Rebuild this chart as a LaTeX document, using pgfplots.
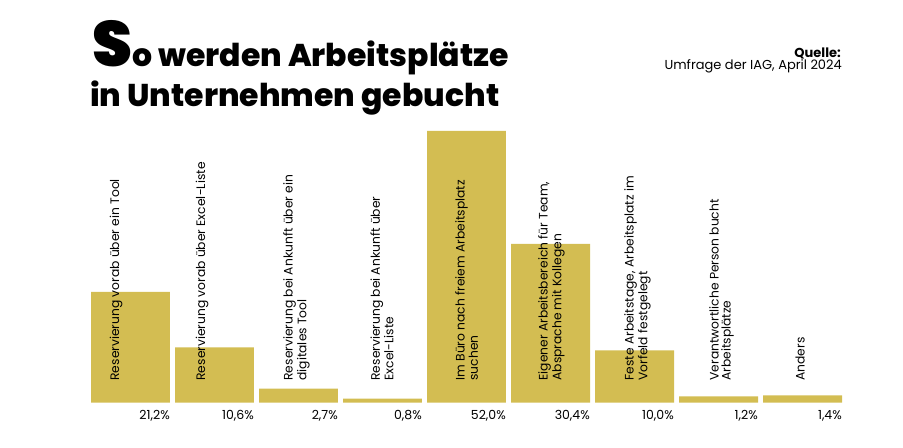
\documentclass[border=0pt]{standalone}
\usepackage{pgfplots}
\pgfplotsset{compat=1.18}
\usepackage{fontspec}
\setmainfont{Poppins}
\newfontfamily\pblack{Poppins Black}
\newfontfamily\pxb{Poppins ExtraBold}
\definecolor{barc}{HTML}{D3BD52}
\tikzset{vl/.style={anchor=base east, inner sep=0, font=\fontsize{12.5bp}{14bp}\selectfont},
  cl/.style={rotate=90, anchor=west, align=left, inner sep=0, font=\fontsize{12.3bp}{12bp}\selectfont}}
\begin{document}
\begin{tikzpicture}[x=1bp,y=1bp]
\useasboundingbox (0,0) rectangle (903,448);
\node[anchor=base west, inner sep=0] at (92,381) {{\pblack\fontsize{64bp}{64bp}\selectfont S}{\pxb\fontsize{31.5bp}{40bp}\selectfont o werden Arbeitsplätze}};
\node[anchor=base west, inner sep=0] at (90,341) {\pxb\fontsize{31.5bp}{40bp}\selectfont in Unternehmen gebucht};
\node[anchor=base east, inner sep=0] at (841,390.5) {\fontsize{13bp}{14bp}\selectfont\bfseries Quelle:};
\node[anchor=base east, inner sep=0] at (842,378.5) {\fontsize{13bp}{14bp}\selectfont Umfrage der IAG, April 2024};
\begin{axis}[
  at={(91bp,45.3bp)}, anchor=south west,
  scale only axis, width=751bp, height=282.7bp,
  xmin=-0.47, xmax=8.47, ymin=0, ymax=54.1,
  axis lines=none, clip=false,
  ybar, bar width=0.94,
]
\addplot[fill=barc, draw=none] table[x=x, y=y] {
x y
0 21.2
1 10.6
2 2.7
3 0.8
4 52.0
5 30.4
6 10.0
7 1.2
8 1.4
};
\node[vl] at ([yshift=-17.3bp]axis cs:0.47,0) {21,2\%};
\node[vl] at ([yshift=-17.3bp]axis cs:1.47,0) {10,6\%};
\node[vl] at ([yshift=-17.3bp]axis cs:2.47,0) {2,7\%};
\node[vl] at ([yshift=-17.3bp]axis cs:3.47,0) {0,8\%};
\node[vl] at ([yshift=-17.3bp]axis cs:4.47,0) {52,0\%};
\node[vl] at ([yshift=-17.3bp]axis cs:5.47,0) {30,4\%};
\node[vl] at ([yshift=-17.3bp]axis cs:6.47,0) {10,0\%};
\node[vl] at ([yshift=-17.3bp]axis cs:7.47,0) {1,2\%};
\node[vl] at ([yshift=-17.3bp]axis cs:8.47,0) {1,4\%};
\node[cl] at ([xshift=-14.5bp, yshift=22bp]axis cs:0,0) {Reservierung vorab über ein Tool};
\node[cl] at ([xshift=-12.5bp, yshift=22bp]axis cs:1,0) {Reservierung vorab über Excel-Liste};
\node[cl] at ([xshift=-2bp, yshift=22bp]axis cs:2,0) {Reservierung bei Ankunft über ein\\digitales Tool};
\node[cl] at ([xshift=-0.5bp, yshift=22bp]axis cs:3,0) {Reservierung bei Ankunft über\\Excel-Liste};
\node[cl] at ([xshift=0bp, yshift=22bp]axis cs:4,0) {Im Büro nach freiem Arbeitsplatz\\suchen};
\node[cl] at ([xshift=1bp, yshift=22bp]axis cs:5,0) {Eigener Arbeitsbereich für Team,\\Absprache mit Kollegen};
\node[cl] at ([xshift=3bp, yshift=22bp]axis cs:6,0) {Feste Arbeitstage, Arbeitsplatz im\\Vorfeld festgelegt};
\node[cl] at ([xshift=3bp, yshift=22bp]axis cs:7,0) {Verantwortliche Person bucht\\Arbeitsplätze};
\node[cl] at ([xshift=-2.5bp, yshift=22bp]axis cs:8,0) {Anders};
\end{axis}
\end{tikzpicture}
\end{document}
